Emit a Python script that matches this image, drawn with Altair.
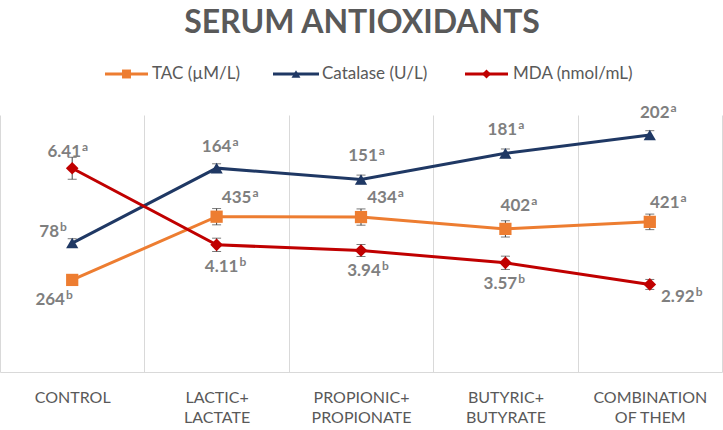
import altair as alt
import pandas as pd

# ---------------- data ----------------
categories = ["CONTROL", "LACTIC+ LACTATE", "PROPIONIC+ PROPIONATE",
              "BUTYRIC+ BUTYRATE", "COMBINATION OF THEM"]

tac = [264, 435, 434, 402, 421]
tac_err = [10, 22, 22, 22, 21]
tac_sig = ["b", "a", "a", "a", "a"]

catalase = [78, 164, 151, 181, 202]
catalase_err = [5, 5, 5, 5, 5]
catalase_sig = ["b", "a", "a", "a", "a"]

mda = [6.41, 4.11, 3.94, 3.57, 2.92]
mda_err = [0.33, 0.20, 0.18, 0.20, 0.15]
mda_sig = ["a", "b", "b", "b", "b"]

title_text = "SERUM ANTIOXIDANTS"
legend_names = ["TAC (µM/L)", "Catalase (U/L)", "MDA (nmol/mL)"]

# ---------------- styling / layout ----------------
GRAY = "#595959"
LABEL_GRAY = "#7f7f7f"
FONT = "Lato"
LBL_SIZE = 17

tac_offsets = [(-22, 20), (20, -19), (21, -19), (10, -23), (15, -19)]
cat_offsets = [(-23, -11), (0, -21), (2, -23), (-3, -23), (5, -22)]
mda_offsets = [(-8, -16), (5, 22), (3, 21), (-5, 21), (28, 13)]

x_axis = alt.Axis(
    title=None, labelAngle=0, tickBand="extent", ticks=False, grid=True,
    gridColor="#d9d9d9", domainColor="#d9d9d9", labelFont=FONT,
    labelFontSize=16, labelColor=GRAY, labelPadding=17, labelLineHeight=20,
    labelLimit=0,
    labelExpr="indexof(datum.label, ' ') < 0 ? datum.label : "
              "[substring(datum.label, 0, indexof(datum.label, ' ')), "
              "substring(datum.label, indexof(datum.label, ' ') + 1)]",
)
x_scale = alt.Scale(type="band", paddingInner=0, paddingOuter=0)


def text_width(s):
    # approximate width of a bold numeric label
    return sum(0.25 * LBL_SIZE if ch == "." else 0.58 * LBL_SIZE for ch in s)


def series(vals, errs, sigs, fmt, color, shape, size, domain, offsets):
    df = pd.DataFrame({
        "cat": categories,
        "v": vals,
        "lo": [v - e for v, e in zip(vals, errs)],
        "hi": [v + e for v, e in zip(vals, errs)],
        "label": [fmt(v) for v in vals],
        "sig": sigs,
    })
    x = alt.X("cat:N", sort=categories, scale=x_scale, axis=x_axis)
    ys = alt.Scale(domain=domain, zero=False, nice=False)
    y = alt.Y("v:Q", scale=ys, axis=None)
    base = alt.Chart(df)
    line = base.mark_line(color=color, strokeWidth=3).encode(x=x, y=y)
    err = base.mark_rule(color="#404040", strokeWidth=1).encode(
        x=x, y=alt.Y("lo:Q", scale=ys, axis=None), y2="hi:Q")
    cap_lo = base.mark_tick(color="#404040", thickness=1, size=9).encode(
        x=x, y=alt.Y("lo:Q", scale=ys, axis=None))
    cap_hi = base.mark_tick(color="#404040", thickness=1, size=9).encode(
        x=x, y=alt.Y("hi:Q", scale=ys, axis=None))
    pts = base.mark_point(shape=shape, filled=True, size=size, color=color,
                          opacity=1).encode(x=x, y=y)
    layers = [line, err, cap_lo, cap_hi, pts]
    for i, (dx, dy) in enumerate(offsets):
        row = df.iloc[[i]]
        w = text_width(row["label"].iloc[0])
        layers.append(
            alt.Chart(row).mark_text(
                dx=dx, dy=dy, font=FONT, fontSize=LBL_SIZE, fontWeight="bold",
                color=LABEL_GRAY, baseline="middle", align="center"
            ).encode(x=x, y=y, text="label:N")
        )
        layers.append(
            alt.Chart(row).mark_text(
                dx=dx + w / 2 + 1, dy=dy - 5, font=FONT, fontSize=12,
                fontWeight="bold", color=LABEL_GRAY, baseline="middle",
                align="left"
            ).encode(x=x, y=y, text="sig:N")
        )
    return alt.layer(*layers)


s_tac = series(tac, tac_err, tac_sig, lambda v: f"{v:d}", "#ED7D31",
               "square", 150, [15, 710], tac_offsets)
s_cat = series(catalase, catalase_err, catalase_sig, lambda v: f"{v:d}",
               "#1F3864", "triangle-up", 150, [-70, 225], cat_offsets)
s_mda = series(mda, mda_err, mda_sig, lambda v: f"{v:.2f}", "#C00000",
               "diamond", 160, [0.29, 8.01], mda_offsets)

# ---------------- title & legend ----------------
one = pd.DataFrame({"t": [title_text]})
title = alt.Chart(one).mark_text(
    font=FONT, fontSize=32, fontWeight="bold", color=GRAY,
    align="center", baseline="alphabetic"
).encode(x=alt.value(362), y=alt.value(-82), text="t:N")

legend_colors = ["#ED7D31", "#1F3864", "#C00000"]
legend_shapes = ["square", "triangle-up", "diamond"]
legend_line_x = [(105, 148), (273, 319), (465, 508)]
legend_text_x = [152, 322, 513]
LEG_Y = -41
legend_layers = []
for name, col, shp, (x0, x1), tx in zip(legend_names, legend_colors,
                                         legend_shapes, legend_line_x,
                                         legend_text_x):
    d = pd.DataFrame({"t": [name]})
    legend_layers.append(alt.Chart(d).mark_rule(color=col, strokeWidth=3).encode(
        x=alt.value(x0), x2=alt.value(x1), y=alt.value(LEG_Y)))
    legend_layers.append(alt.Chart(d).mark_point(
        shape=shp, filled=True, size=80, color=col, opacity=1).encode(
        x=alt.value((x0 + x1) / 2), y=alt.value(LEG_Y)))
    legend_layers.append(alt.Chart(d).mark_text(
        font=FONT, fontSize=17, color=GRAY, align="left", baseline="middle"
    ).encode(x=alt.value(tx), y=alt.value(LEG_Y), text="t:N"))

chart = alt.layer(s_tac, s_cat, s_mda, title, *legend_layers).resolve_scale(
    y="independent"
).properties(
    width=722, height=257,
    autosize=alt.AutoSizeParams(type="none"),
    padding={"left": 0, "top": 115, "right": 1, "bottom": 58},
).configure_view(stroke=None)

chart.save("out.html", embed_options={"renderer": "svg", "actions": False})
